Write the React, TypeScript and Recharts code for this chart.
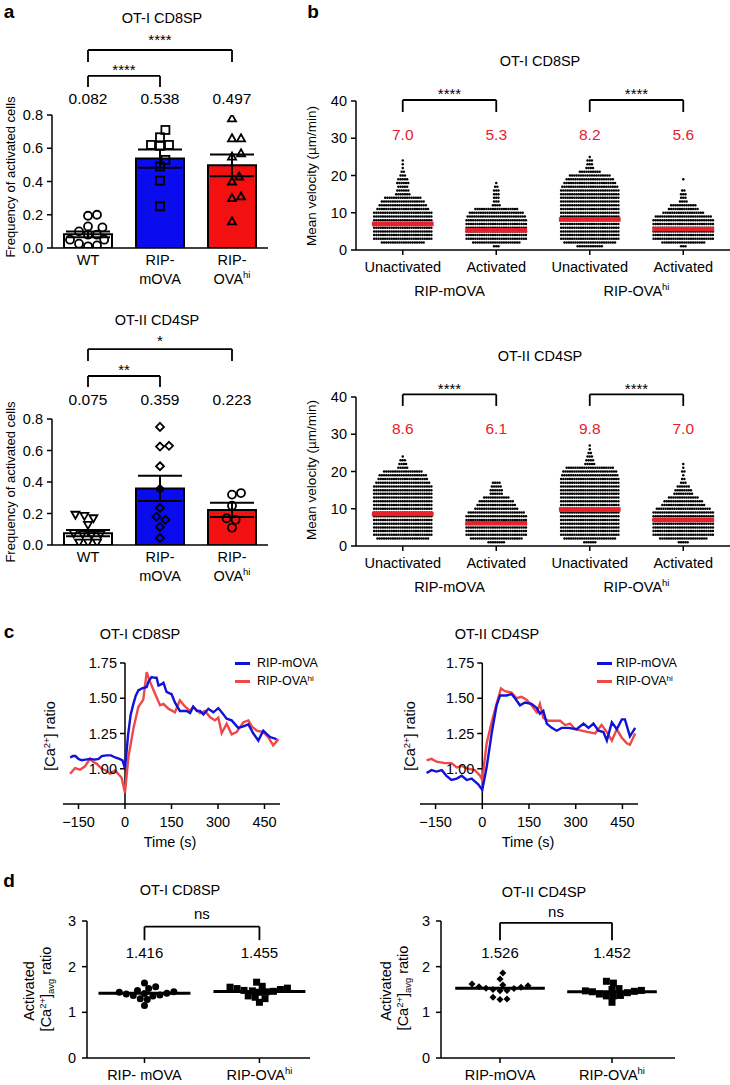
import React from 'react';
import {
  Bar, Cell, ComposedChart, ErrorBar, Line, LineChart, ReferenceDot,
  ReferenceLine, Scatter, ScatterChart, XAxis, YAxis,
} from 'recharts';

const FONT = '"Liberation Sans", Arial, Helvetica, sans-serif';
const BLUE = '#0b0bf0';
const RED = '#f21010';
const LINE_BLUE = '#1212d6';
const LINE_RED = '#ee4848';
const VAL_RED = '#e8202a';
const AXIS = { stroke: '#000', strokeWidth: 1.5 };
const FS = 14.5;
const TICK = { fill: '#000', fontSize: FS };

// ---- a: frequency of activated cells
const aCategories = ['WT', 'RIP-mOVA', 'RIP-OVA^hi'];
const aBarColors = ['#ffffff', BLUE, RED];
const a1Means = [0.082, 0.538, 0.497];
const a1Sem = [0.018, 0.055, 0.065];
const a1WT = [0.2, 0.194, 0.13, 0.124, 0.1, 0.08, 0.08, 0.05, 0.05, 0.026, 0.016, 0.01];
const a1MOVA = [0.71, 0.666, 0.62, 0.614, 0.62, 0.53, 0.49, 0.405, 0.25];
const a1OVAhi = [0.78, 0.66, 0.66, 0.57, 0.55, 0.43, 0.4, 0.31, 0.3, 0.16];
const a2Means = [0.075, 0.359, 0.223];
const a2Sem = [0.02, 0.08, 0.045];
const a2WT = [0.192, 0.185, 0.17, 0.128, 0.075, 0.07, 0.07, 0.064, 0.015, 0.015, 0.015];
const a2MOVA = [0.75, 0.63, 0.625, 0.5, 0.355, 0.235, 0.18, 0.16, 0.115, 0.044];
const a2OVAhi = [0.33, 0.32, 0.25, 0.17, 0.16, 0.11];

// ---- b: mean velocity, dots per 1 µm/min row (row 1, 2, 3 ...)
const bCategories = ['Unactivated', 'Activated', 'Unactivated', 'Activated'];
const bGroups = ['RIP-mOVA', 'RIP-OVA^hi'];
const b1Means = [7.0, 5.3, 8.2, 5.6];
const b1UnactMOVA = [0, 20, 27, 27, 27, 27, 27, 27, 27, 27, 24, 22, 20, 17, 7, 6, 5, 6, 5, 3, 2, 1, 1, 1];
const b1ActMOVA = [3, 22, 28, 28, 28, 28, 28, 28, 27, 25, 20, 4, 3, 3, 3, 3, 2, 1];
const b1UnactOVA = [12, 24, 27, 27, 27, 27, 27, 27, 27, 27, 27, 27, 27, 27, 27, 27, 26, 24, 22, 19, 10, 4, 3, 3, 1];
const b1ActOVA = [3, 20, 28, 28, 28, 28, 28, 28, 26, 19, 14, 12, 4, 3, 3, 2, 0, 0, 1];
const b2Means = [8.6, 6.1, 9.8, 7.0];
const b2UnactMOVA = [0, 24, 27, 27, 27, 27, 27, 27, 27, 27, 27, 27, 27, 27, 27, 27, 25, 23, 22, 18, 5, 4, 3, 1];
const b2ActMOVA = [8, 24, 28, 28, 28, 28, 28, 28, 26, 20, 18, 16, 12, 6, 6, 5, 4];
const b2UnactOVA = [6, 24, 27, 27, 27, 27, 27, 27, 27, 27, 27, 27, 27, 27, 27, 27, 27, 27, 26, 25, 22, 5, 4, 3, 2, 1, 1];
const b2ActOVA = [5, 22, 28, 28, 28, 28, 28, 28, 28, 25, 20, 18, 14, 9, 8, 6, 3, 2, 1, 2, 1, 1];

// ---- c: [Ca2+] ratio over time, [time s, ratio]
const cXTicks = [-150, 0, 150, 300, 450];
const cYTicks = [1.0, 1.25, 1.5, 1.75];
const cSeries = ['RIP-mOVA', 'RIP-OVA^hi'];
const c1Blue = [
  [-177, 1.08], [-168, 1.09], [-160, 1.09], [-150, 1.07], [-140, 1.06], [-128, 1.065], [-113, 1.07],
  [-97, 1.065], [-85, 1.07], [-75, 1.09], [-60, 1.095], [-45, 1.095], [-32, 1.08], [-18, 1.07],
  [-8, 1.06], [0, 1.0], [10, 1.24], [18, 1.38], [27, 1.46], [35, 1.52], [43, 1.556], [55, 1.57],
  [70, 1.58], [76, 1.62], [86, 1.65], [96, 1.645], [102, 1.645], [108, 1.59], [118, 1.6], [124, 1.61],
  [134, 1.545], [144, 1.535], [150, 1.53], [161, 1.47], [177, 1.41], [199, 1.41], [210, 1.395],
  [220, 1.44], [232, 1.41], [242, 1.41], [253, 1.385], [269, 1.425], [285, 1.4], [301, 1.43],
  [312, 1.4], [328, 1.355], [344, 1.343], [365, 1.29], [382, 1.3], [398, 1.315], [414, 1.25],
  [430, 1.2], [446, 1.27], [468, 1.225], [489, 1.21],
];
const c1Red = [
  [-177, 0.964], [-161, 1.005], [-145, 0.993], [-129, 1.017], [-118, 1.054], [-113, 1.071],
  [-102, 1.047], [-91, 1.035], [-75, 1.0], [-61, 0.988], [-48, 0.964], [-32, 0.988], [-22, 0.964],
  [-11, 0.936], [0, 0.83], [11, 1.083], [27, 1.284], [43, 1.438], [59, 1.49], [70, 1.686], [81, 1.615],
  [97, 1.532], [113, 1.45], [124, 1.46], [140, 1.426], [150, 1.414], [161, 1.4], [177, 1.485],
  [194, 1.44], [210, 1.41], [220, 1.44], [242, 1.395], [258, 1.41], [274, 1.367], [290, 1.343],
  [301, 1.362], [312, 1.253], [328, 1.32], [344, 1.244], [360, 1.26], [382, 1.33], [398, 1.343],
  [409, 1.3], [425, 1.27], [446, 1.26], [462, 1.225], [478, 1.166], [495, 1.21],
];
const c2Blue = [
  [-179, 0.97], [-163, 0.99], [-147, 0.98], [-130, 0.99], [-115, 0.95], [-99, 0.92], [-82, 0.93],
  [-66, 0.95], [-50, 0.92], [-34, 0.93], [-13, 0.89], [0, 0.85], [14, 1.01], [30, 1.25], [46, 1.45],
  [57, 1.52], [78, 1.52], [94, 1.53], [105, 1.5], [121, 1.45], [137, 1.47], [158, 1.46], [175, 1.43],
  [185, 1.39], [196, 1.41], [207, 1.32], [223, 1.29], [239, 1.27], [255, 1.29], [276, 1.29],
  [303, 1.28], [325, 1.32], [341, 1.29], [357, 1.32], [373, 1.27], [389, 1.26], [400, 1.2],
  [416, 1.33], [432, 1.28], [448, 1.35], [458, 1.35], [474, 1.23], [491, 1.29],
];
const c2Red = [
  [-179, 1.06], [-163, 1.07], [-147, 1.05], [-120, 1.04], [-99, 1.04], [-82, 1.01], [-66, 1.02],
  [-45, 1.0], [-24, 0.99], [-7, 0.95], [0, 0.92], [14, 1.18], [30, 1.33], [46, 1.46], [60, 1.57],
  [73, 1.55], [94, 1.54], [110, 1.5], [126, 1.51], [142, 1.49], [158, 1.45], [175, 1.4], [185, 1.46],
  [196, 1.36], [212, 1.34], [228, 1.34], [250, 1.34], [266, 1.31], [282, 1.32], [298, 1.28],
  [319, 1.27], [341, 1.26], [362, 1.25], [383, 1.31], [400, 1.26], [416, 1.2], [432, 1.28],
  [448, 1.22], [464, 1.18], [474, 1.17], [491, 1.25],
];

// ---- d: activated [Ca2+]avg ratio
const d1Categories = ['RIP- mOVA', 'RIP-OVA^hi'];
const d2Categories = ['RIP-mOVA', 'RIP-OVA^hi'];
const d1Means = [1.416, 1.455];
const d1MOVA = [1.64, 1.56, 1.52, 1.48, 1.45, 1.44, 1.42, 1.41, 1.4, 1.38, 1.37, 1.36, 1.3, 1.28, 1.15];
const d1OVAhi = [1.66, 1.57, 1.55, 1.53, 1.52, 1.5, 1.48, 1.47, 1.46, 1.45, 1.44, 1.36, 1.33, 1.3, 1.22];
const d2Means = [1.526, 1.452];
const d2MOVA = [1.86, 1.73, 1.62, 1.6, 1.58, 1.56, 1.55, 1.53, 1.52, 1.5, 1.48, 1.47, 1.33, 1.29, 1.28];
const d2OVAhi = [1.68, 1.64, 1.52, 1.5, 1.48, 1.47, 1.46, 1.45, 1.43, 1.4, 1.37, 1.36, 1.36, 1.22];

// simple beeswarm: horizontal offsets (in x units) so markers don't overlap
function swarm(values: number[], diam: number, pxX: number, pxY: number) {
  const order = values.map((_, i) => i).sort((a, b) => values[a] - values[b]);
  const placed: { x: number; y: number }[] = [];
  const out = values.map(() => 0);
  for (const i of order) {
    const y = values[i] * pxY;
    let pick = 0;
    for (let k = 0; k < 400; k++) {
      const c = (k % 2 ? 1 : -1) * Math.ceil(k / 2) * diam * 0.2;
      if (placed.every((p) => (p.x - c) ** 2 + (p.y - y) ** 2 >= diam * diam * 0.85)) {
        pick = c;
        break;
      }
    }
    placed.push({ x: pick, y });
    out[i] = pick / pxX;
  }
  return out;
}

function rows(counts: number[], center: number, step: number) {
  const pts: { x: number; y: number }[] = [];
  counts.forEach((n, i) => {
    for (let k = 0; k < n; k++) pts.push({ x: center + (k - (n - 1) / 2) * step, y: i + 1 });
  });
  return pts;
}

function marker(kind: string, size: number, filled: boolean) {
  return (p: any) => {
    const { cx, cy } = p;
    if (cx == null || cy == null) return <g />;
    const h = size / 2;
    const st = filled ? { fill: '#000', stroke: 'none' } : { fill: 'none', stroke: '#000', strokeWidth: 1.8 };
    if (kind === 'circle') return <circle cx={cx} cy={cy} r={h} {...st} />;
    if (kind === 'square') return <rect x={cx - h} y={cy - h} width={size} height={size} {...st} />;
    if (kind === 'diamond') return <path d={`M${cx},${cy - h}L${cx + h},${cy}L${cx},${cy + h}L${cx - h},${cy}Z`} {...st} />;
    if (kind === 'tri') return <path d={`M${cx},${cy - h}L${cx + h},${cy + h * 0.75}L${cx - h},${cy + h * 0.75}Z`} {...st} />;
    return <path d={`M${cx},${cy + h}L${cx + h},${cy - h * 0.75}L${cx - h},${cy - h * 0.75}Z`} {...st} />;
  };
}

const tinyDot = (p: any) => <circle cx={p.cx} cy={p.cy} r={1.25} fill="#000" />;

function svgLabel(label: string) {
  const [m, s] = label.split('^');
  return (
    <>
      <tspan>{m}</tspan>
      {s && <tspan dy={-6} fontSize={9.5}>{s}</tspan>}
    </>
  );
}

function htmlSup(t: string) {
  return <span style={{ fontSize: '0.65em', position: 'relative', top: '-0.55em' }}>{t}</span>;
}

function bracket(key: string, a: number, b: number, y: number, legA: number, legB: number, xAxisId: any = 0) {
  const s = { stroke: '#000', strokeWidth: 1.8, ifOverflow: 'visible' as const, xAxisId };
  return [
    <ReferenceLine key={key + 'h'} segment={[{ x: a, y }, { x: b, y }]} {...s} />,
    <ReferenceLine key={key + 'l'} segment={[{ x: a, y }, { x: a, y: legA }]} {...s} />,
    <ReferenceLine key={key + 'r'} segment={[{ x: b, y }, { x: b, y: legB }]} {...s} />,
  ];
}

function note(key: string, x: number, y: number, text: string, size: number, color = '#000', xAxisId: any = 0) {
  return (
    <ReferenceDot key={key} xAxisId={xAxisId} x={x} y={y} r={0} fill="none" stroke="none" ifOverflow="visible"
      label={{ value: text, position: 'center', fill: color, fontSize: size }} />
  );
}

function T({ x, y, size = FS, rot, bold, left, color = '#000', children }: any) {
  return (
    <div style={{
      position: 'absolute', left: x, top: y, fontSize: size, fontWeight: bold ? 700 : 400, color,
      lineHeight: 1, whiteSpace: 'nowrap',
      transform: `${left ? 'translate(0,-50%)' : 'translate(-50%,-50%)'}${rot ? ' rotate(-90deg)' : ''}`,
    }}>{children}</div>
  );
}

function ATick(p: any) {
  const label: string = p.payload.value;
  const parts = label.startsWith('RIP-') ? ['RIP-', label.slice(4)] : [label];
  return (
    <g>
      {parts.map((s, i) => (
        <text key={i} x={p.x} y={p.y + 15 + i * 19} textAnchor="middle" fontSize={FS} fill="#000">{svgLabel(s)}</text>
      ))}
    </g>
  );
}

type Br = { a: number; b: number; y: number; leg: number; stars: string; sy: number };

function BarPanel({ top, plotTop, plotBottom, means, sems, groups, shapes, brs, valueY }: {
  top: number; plotTop: number; plotBottom: number; means: number[]; sems: number[];
  groups: number[][]; shapes: string[]; brs: Br[]; valueY: number;
}) {
  const W = 280, H = 300, ML = 12, YW = 40, MR = 12, XH = 40;
  const plotW = W - ML - YW - MR;
  const pxX = plotW / 3;
  const pxY = (plotBottom - plotTop) / 0.8;
  const table = aCategories.map((cat, i) => ({ cat, mean: means[i], sem: sems[i] }));
  return (
    <div style={{ position: 'absolute', left: 0, top, width: W, height: H }}>
      <ComposedChart width={W} height={H} data={table}
        margin={{ top: plotTop, right: MR, bottom: H - plotBottom - XH, left: ML }}>
        <XAxis dataKey="cat" height={XH} tickLine={false} tickSize={0} tickMargin={2} axisLine={AXIS} tick={ATick} interval={0} />
        <XAxis xAxisId="n" type="number" dataKey="x" domain={[0, 3]} hide allowDataOverflow />
        <YAxis width={YW} domain={[0, 0.8]} ticks={[0, 0.2, 0.4, 0.6, 0.8]} tickFormatter={(v: number) => v.toFixed(1)}
          tick={TICK} tickSize={5} tickMargin={4} tickLine={AXIS} axisLine={AXIS} allowDataOverflow />
        <Bar dataKey="mean" barSize={48} stroke="#000" strokeWidth={2} isAnimationActive={false}>
          {table.map((_, i) => <Cell key={i} fill={aBarColors[i]} />)}
          <ErrorBar dataKey="sem" width={22} strokeWidth={2} stroke="#000" direction="y" />
        </Bar>
        {groups.map((vals, gi) => {
          const offs = swarm(vals, 9, pxX, pxY);
          const pts = vals.map((v, k) => ({ x: gi + 0.5 + offs[k], y: v }));
          return <Scatter key={gi} xAxisId="n" data={pts} dataKey="y" shape={marker(shapes[gi], 8, false)} isAnimationActive={false} />;
        })}
        {brs.flatMap((b, i) => bracket('br' + i, b.a, b.b, b.y, b.leg, b.leg, 'n'))}
        {brs.map((b, i) => note('st' + i, (b.a + b.b) / 2, b.sy, b.stars, 15, '#000', 'n'))}
        {means.map((m, i) => note('v' + i, i + 0.5, valueY, m.toFixed(3), 15.5, '#000', 'n'))}
      </ComposedChart>
    </div>
  );
}

function makeBTick(plotW: number) {
  return (p: any) => {
    const i = Math.round(p.payload.value - 0.5);
    return (
      <g>
        <text x={p.x} y={p.y + 14} textAnchor="middle" fontSize={FS} fill="#000">{bCategories[i]}</text>
        {i % 2 === 0 && (
          <text x={p.x + plotW / 8} y={p.y + 38} textAnchor="middle" fontSize={FS} fill="#000">{svgLabel(bGroups[i / 2])}</text>
        )}
      </g>
    );
  };
}

function DotPanel({ top, groups, means, by, leg, sy, vy }: {
  top: number; groups: number[][]; means: number[]; by: number; leg: number; sy: number; vy: number;
}) {
  const W = 490, H = 270, ML = 76, YW = 40, MT = 61, XH = 30, MB = 30;
  const plotW = W - ML - YW;
  const pxX = plotW / 4;
  const step = 2.2 / pxX;
  const hw = 0.33 * pxX;
  const meanBar = (p: any) => <rect x={p.cx - hw} y={p.cy - 2.3} width={2 * hw} height={4.6} fill={VAL_RED} />;
  return (
    <div style={{ position: 'absolute', left: 240, top, width: W, height: H }}>
      <ScatterChart width={W} height={H} margin={{ top: MT, right: 0, bottom: MB, left: ML }}>
        <XAxis type="number" dataKey="x" domain={[0, 4]} ticks={[0.5, 1.5, 2.5, 3.5]} height={XH} interval={0}
          tick={makeBTick(plotW)} tickSize={5} tickMargin={3} tickLine={AXIS} axisLine={AXIS} allowDataOverflow />
        <YAxis type="number" dataKey="y" domain={[0, 40]} ticks={[0, 10, 20, 30, 40]} width={YW}
          tick={TICK} tickSize={5} tickMargin={4} tickLine={AXIS} axisLine={AXIS} allowDataOverflow />
        {groups.map((c, gi) => (
          <Scatter key={gi} data={rows(c, gi + 0.5, step)} shape={tinyDot} isAnimationActive={false} />
        ))}
        <Scatter data={means.map((m, gi) => ({ x: gi + 0.5, y: m }))} shape={meanBar} isAnimationActive={false} />
        {[0, 2].flatMap((g) => bracket('b' + g, g + 0.5, g + 1.5, by, leg, leg))}
        {[0, 2].map((g) => note('s' + g, g + 1, sy, '****', 15))}
        {means.map((m, gi) => note('v' + gi, gi + 0.5, vy, m.toFixed(1), 15.5, VAL_RED))}
      </ScatterChart>
    </div>
  );
}

const CTick = (p: any) => (
  <text x={p.x} y={p.y + 15} textAnchor="middle" fontSize={FS} fill="#000">
    {p.payload.value < 0 ? '\u2212' + Math.abs(p.payload.value) : String(p.payload.value)}
  </text>
);

function CaPanel({ left, ml, mr, blue, red }: { left: number; ml: number; mr: number; blue: number[][]; red: number[][] }) {
  const W = 300, H = 220, MT = 23, XH = 40, MB = 16;
  const dom = [-200, 500];
  const plotW = W - ml - mr;
  const x0 = ml + (plotW * (0 - dom[0])) / (dom[1] - dom[0]);
  const toPts = (s: number[][]) => s.map(([t, v]) => ({ t, v }));
  const yTick = (p: any) => (
    <g>
      <line x1={x0 - 5} x2={x0} y1={p.y} y2={p.y} stroke="#000" strokeWidth={1.5} />
      <text x={x0 - 8} y={p.y + 5} textAnchor="end" fontSize={FS} fill="#000">{p.payload.value.toFixed(2)}</text>
    </g>
  );
  return (
    <div style={{ position: 'absolute', left, top: 640, width: W, height: H }}>
      <LineChart width={W} height={H} margin={{ top: MT, right: mr, bottom: MB, left: ml - 1 }}>
        <XAxis type="number" dataKey="t" domain={dom} ticks={cXTicks} height={XH} interval={0} tick={CTick}
          tickSize={5} tickMargin={3} tickLine={AXIS} axisLine={AXIS} allowDataOverflow />
        <YAxis type="number" domain={[0.75, 1.75]} ticks={cYTicks} width={1} axisLine={false} tickLine={false}
          tick={yTick} interval={0} allowDataOverflow />
        <ReferenceLine x={0} stroke="#000" strokeWidth={1.5} />
        <Line data={toPts(red)} dataKey="v" stroke={LINE_RED} strokeWidth={2.4} dot={false} isAnimationActive={false} />
        <Line data={toPts(blue)} dataKey="v" stroke={LINE_BLUE} strokeWidth={2.4} dot={false} isAnimationActive={false} />
      </LineChart>
    </div>
  );
}

function makeDTick(cats: string[]) {
  return (p: any) => (
    <text x={p.x} y={p.y + 14} textAnchor="middle" fontSize={FS} fill="#000">{svgLabel(cats[Math.round(p.payload.value) - 1])}</text>
  );
}

function AvgPanel({ left, ml, dom, cats, groups, shapes, means, by, leg, sy, vy }: {
  left: number; ml: number; dom: number[]; cats: string[]; groups: number[][]; shapes: string[];
  means: number[]; by: number; leg: number; sy: number; vy: number;
}) {
  const W = 330, H = 205, MT = 41, YW = 40, XH = 27, MR = 20;
  const plotW = W - ml - YW - MR;
  const pxX = plotW / (dom[1] - dom[0]);
  const pxY = (H - MT - XH) / 3;
  return (
    <div style={{ position: 'absolute', left, top: 880, width: W, height: H }}>
      <ScatterChart width={W} height={H} margin={{ top: MT, right: MR, bottom: 0, left: ml }}>
        <XAxis type="number" dataKey="x" domain={dom} ticks={[1, 2]} height={XH} interval={0} tick={makeDTick(cats)}
          tickSize={5} tickMargin={3} tickLine={AXIS} axisLine={AXIS} allowDataOverflow />
        <YAxis type="number" dataKey="y" domain={[0, 3]} ticks={[0, 1, 2, 3]} width={YW}
          tick={TICK} tickSize={5} tickMargin={6} tickLine={AXIS} axisLine={AXIS} allowDataOverflow />
        {groups.map((vals, gi) => {
          const offs = swarm(vals, 7, pxX, pxY);
          const pts = vals.map((v, k) => ({ x: gi + 1 + offs[k], y: v }));
          return <Scatter key={gi} data={pts} shape={marker(shapes[gi], 7, true)} isAnimationActive={false} />;
        })}
        {means.map((m, gi) => (
          <ReferenceLine key={'m' + gi} segment={[{ x: gi + 0.6, y: m }, { x: gi + 1.4, y: m }]} stroke="#000" strokeWidth={3} />
        ))}
        {bracket('d', 1, 2, by, leg, leg)}
        {note('ns', 1.5, sy, 'ns', 15)}
        {means.map((m, gi) => note('v' + gi, gi + 1, vy, m.toFixed(3), 15))}
      </ScatterChart>
    </div>
  );
}

export default function App() {
  const ca = <>[Ca{htmlSup('2+')}]</>;
  return (
    <div style={{ position: 'absolute', left: 0, top: 0, width: 730, height: 1085, background: '#fff', overflow: 'hidden', fontFamily: FONT, color: '#000' }}>
      <T x={9} y={11} size={19} bold>a</T>
      <T x={313} y={11} size={19} bold>b</T>
      <T x={9} y={631} size={19} bold>c</T>
      <T x={9} y={880} size={19} bold>d</T>

      <T x={162} y={18}>OT-I CD8SP</T>
      <T x={157} y={320}>OT-II CD4SP</T>
      <T x={10} y={177} size={13} rot>Frequency of activated cells</T>
      <T x={10} y={482} size={13} rot>Frequency of activated cells</T>
      <BarPanel top={0} plotTop={115} plotBottom={248} means={a1Means} sems={a1Sem}
        groups={[a1WT, a1MOVA, a1OVAhi]} shapes={['circle', 'square', 'tri']} valueY={0.902}
        brs={[{ a: 0.5, b: 1.5, y: 1.035, leg: 0.968, stars: '****', sy: 1.07 }, { a: 0.5, b: 2.5, y: 1.191, leg: 1.119, stars: '****', sy: 1.255 }]} />
      <BarPanel top={300} plotTop={119} plotBottom={245} means={a2Means} sems={a2Sem}
        groups={[a2WT, a2MOVA, a2OVAhi]} shapes={['triDown', 'diamond', 'circle']} valueY={0.927}
        brs={[{ a: 0.5, b: 1.5, y: 1.073, leg: 1.003, stars: '**', sy: 1.111 }, { a: 0.5, b: 2.5, y: 1.244, leg: 1.168, stars: '*', sy: 1.295 }]} />

      <T x={540} y={61}>OT-I CD8SP</T>
      <T x={540} y={356}>OT-II CD4SP</T>
      <T x={312} y={176} size={13.5} rot>Mean velocity (µm/min)</T>
      <T x={312} y={470} size={13.5} rot>Mean velocity (µm/min)</T>
      <DotPanel top={40} groups={[b1UnactMOVA, b1ActMOVA, b1UnactOVA, b1ActOVA]} means={b1Means} by={40.27} leg={37.05} sy={42.0} vy={31.1} />
      <DotPanel top={336} groups={[b2UnactMOVA, b2ActMOVA, b2UnactOVA, b2ActOVA]} means={b2Means} by={40.7} leg={37.6} sy={42.15} vy={31.6} />

      <T x={140} y={634}>OT-I CD8SP</T>
      <T x={497} y={634}>OT-II CD4SP</T>
      <T x={50} y={736} rot>{ca} ratio</T>
      <T x={410} y={736} rot>{ca} ratio</T>
      <T x={170} y={842}>Time (s)</T>
      <T x={528} y={842}>Time (s)</T>
      <CaPanel left={0} ml={63} mr={20} blue={c1Blue} red={c1Red} />
      <CaPanel left={365} ml={55} mr={27} blue={c2Blue} red={c2Red} />
      {[{ x: 235, tx: 257 }, { x: 597, tx: 616 }].map((l, i) => (
        <React.Fragment key={i}>
          <div style={{ position: 'absolute', left: l.x, top: 661.5, width: 15, height: 3, background: LINE_BLUE }} />
          <div style={{ position: 'absolute', left: l.x, top: 679.5, width: 15, height: 3, background: LINE_RED }} />
          <T x={l.tx} y={663} size={12.5} left>{cSeries[0]}</T>
          <T x={l.tx} y={681} size={12.5} left>RIP-OVA{htmlSup('hi')}</T>
        </React.Fragment>
      ))}

      <T x={180} y={890}>OT-I CD8SP</T>
      <T x={544} y={892}>OT-II CD4SP</T>
      <T x={29} y={991} rot>Activated</T>
      <T x={46} y={989} rot>{ca}<span style={{ fontSize: '0.65em', position: 'relative', top: '0.3em' }}>avg</span> ratio</T>
      <T x={386} y={991} rot>Activated</T>
      <T x={403} y={988} rot>{ca}<span style={{ fontSize: '0.65em', position: 'relative', top: '0.3em' }}>avg</span> ratio</T>
      <AvgPanel left={0} ml={47} dom={[0.5, 2.44]} cats={d1Categories} groups={[d1MOVA, d1OVAhi]} shapes={['circle', 'square']}
        means={d1Means} by={2.875} leg={2.58} sy={3.16} vy={2.305} />
      <AvgPanel left={365} ml={36} dom={[0.473, 2.5625]} cats={d2Categories} groups={[d2MOVA, d2OVAhi]} shapes={['diamond', 'square']}
        means={d2Means} by={2.96} leg={2.58} sy={3.205} vy={2.3} />
    </div>
  );
}
